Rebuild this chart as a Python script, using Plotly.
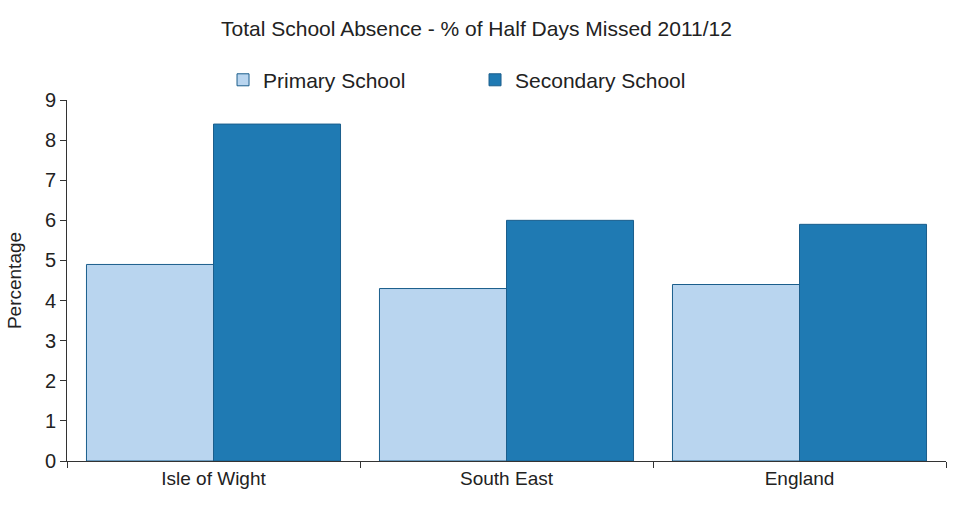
import plotly.graph_objects as go

categories = ["Isle of Wight", "South East", "England"]
primary = [4.9, 4.3, 4.4]
secondary = [8.4, 6.0, 5.9]
y_ticks = [0, 1, 2, 3, 4, 5, 6, 7, 8, 9]

font = "Liberation Sans, Arial, sans-serif"

fig = go.Figure()
fig.add_trace(go.Bar(
    x=categories, y=primary, name="Primary School",
    marker=dict(color="#b9d5ef", line=dict(color="#1b5e8c", width=1)),
))
fig.add_trace(go.Bar(
    x=categories, y=secondary, name="Secondary School",
    marker=dict(color="#1f7ab3", line=dict(color="#1b5e8c", width=1)),
))

fig.update_layout(
    width=953, height=507,
    margin=dict(l=67, r=7, t=100, b=46),
    paper_bgcolor="white", plot_bgcolor="white",
    barmode="group", bargap=0.133, bargroupgap=0,
    font=dict(family=font, size=19, color="#222222"),
    title=dict(text="Total School Absence - % of Half Days Missed 2011/12",
               x=0.5, xanchor="center", y=0.943, yanchor="middle",
               font=dict(size=21, color="#222222")),
    legend=dict(orientation="h", x=0.1775, xanchor="left", y=1.055, yanchor="middle",
                entrywidth=207, entrywidthmode="pixels",
                font=dict(size=21), itemwidth=30, tracegroupgap=0),
    showlegend=True,
)
fig.update_xaxes(
    showline=True, linecolor="#333333", linewidth=1,
    ticks="outside", tickson="boundaries", ticklen=6, tickcolor="#333333",
    showgrid=False, tickfont=dict(size=19),
)
fig.update_yaxes(
    range=[0, 9], tickvals=y_ticks,
    showline=True, linecolor="#333333", linewidth=1,
    ticks="outside", ticklen=6, tickcolor="#333333",
    showgrid=False, zeroline=False, tickfont=dict(size=20),
    title=dict(text="Percentage", font=dict(size=19), standoff=18),
)

fig.write_html("out.html")
